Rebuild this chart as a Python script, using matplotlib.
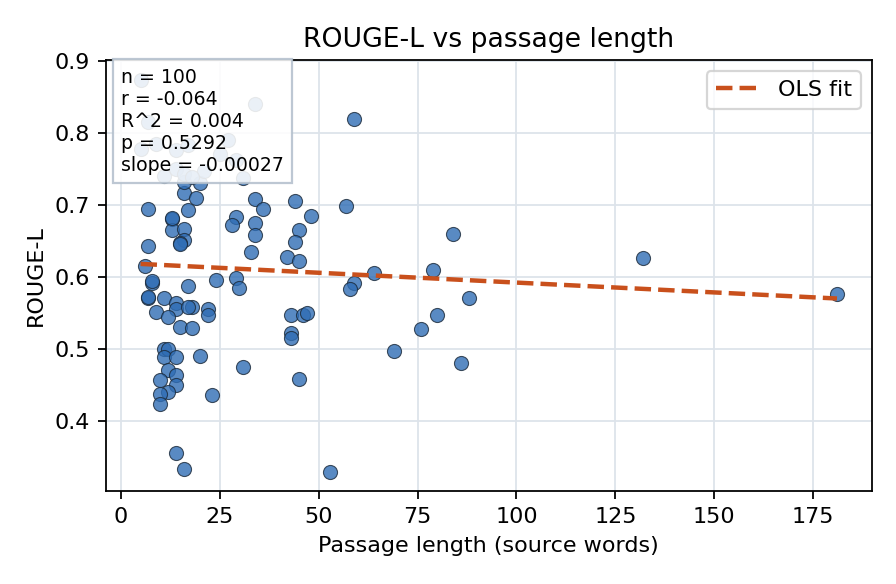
import numpy as np
import matplotlib
matplotlib.use("Agg")
import matplotlib.pyplot as plt

# passage length (source words) and ROUGE-L per item
passage_len = [16, 19, 7, 13, 13, 16, 16, 15, 17, 7,
               6, 8, 17, 7, 11, 14, 14, 18, 17, 9,
               12, 15, 18, 22, 22, 24, 29, 30, 33, 34,
               34, 29, 28, 34, 36, 44, 45, 44, 42, 45,
               43, 43, 43, 46, 47, 11, 12, 11, 14, 20,
               12, 14, 10, 14, 12, 10, 10, 23, 31, 14,
               16, 45, 59, 57, 48, 64, 59, 58, 53, 69,
               76, 80, 79, 88, 86, 84, 132, 181, 20, 16,
               5, 34, 27, 25, 29, 21, 31, 5, 9, 14,
               17, 11, 14, 16, 18, 7, 13, 15, 7, 8]
rouge_l = [0.717, 0.710, 0.695, 0.680, 0.666, 0.667, 0.652, 0.648, 0.693, 0.643,
           0.615, 0.592, 0.588, 0.571, 0.571, 0.564, 0.556, 0.559, 0.558, 0.551,
           0.545, 0.531, 0.529, 0.555, 0.547, 0.596, 0.599, 0.585, 0.635, 0.675,
           0.659, 0.684, 0.673, 0.708, 0.695, 0.706, 0.666, 0.649, 0.628, 0.623,
           0.547, 0.522, 0.516, 0.548, 0.550, 0.500, 0.500, 0.489, 0.489, 0.491,
           0.471, 0.464, 0.457, 0.450, 0.441, 0.438, 0.424, 0.436, 0.475, 0.356,
           0.334, 0.459, 0.820, 0.699, 0.685, 0.605, 0.592, 0.584, 0.330, 0.498,
           0.528, 0.547, 0.610, 0.571, 0.481, 0.660, 0.627, 0.576, 0.730, 0.732,
           0.874, 0.840, 0.790, 0.771, 0.762, 0.747, 0.738, 0.778, 0.785, 0.776,
           0.783, 0.741, 0.750, 0.743, 0.739, 0.815, 0.682, 0.646, 0.573, 0.594]

stats_lines = ["n = 100", "r = -0.064", "R^2 = 0.004", "p = 0.5292", "slope = -0.00027"]

x = np.array(passage_len, dtype=float)
y = np.array(rouge_l)
slope, intercept = np.polyfit(x, y, 1)

fig, ax = plt.subplots(figsize=(5.6, 3.65), dpi=160)
fig.subplots_adjust(left=0.118, right=0.973, top=0.897, bottom=0.159)

ax.scatter(x, y, s=40, color="#2f6db5", alpha=0.8, edgecolors="#1b2a3a",
           linewidths=0.5, zorder=2)
xs = np.array([x.min(), x.max()])
ax.plot(xs, intercept + slope * xs, "--", color="#c9501c", lw=2, label="OLS fit", zorder=3)

ax.grid(True, color="#dde3ea", lw=0.8)
ax.set_axisbelow(True)
ax.set_title("ROUGE-L vs passage length", fontsize=12)
ax.set_xlabel("Passage length (source words)")
ax.set_ylabel("ROUGE-L")
ax.legend(loc="upper right", fontsize=10)

ax.text(0.02, 0.982, "\n".join(stats_lines), transform=ax.transAxes, fontsize=8.5,
        va="top", ha="left", zorder=5,
        bbox=dict(boxstyle="square,pad=0.45", facecolor="white", alpha=0.88,
                  edgecolor="#b4c0cd"))

fig.savefig("out.png", dpi=160)
